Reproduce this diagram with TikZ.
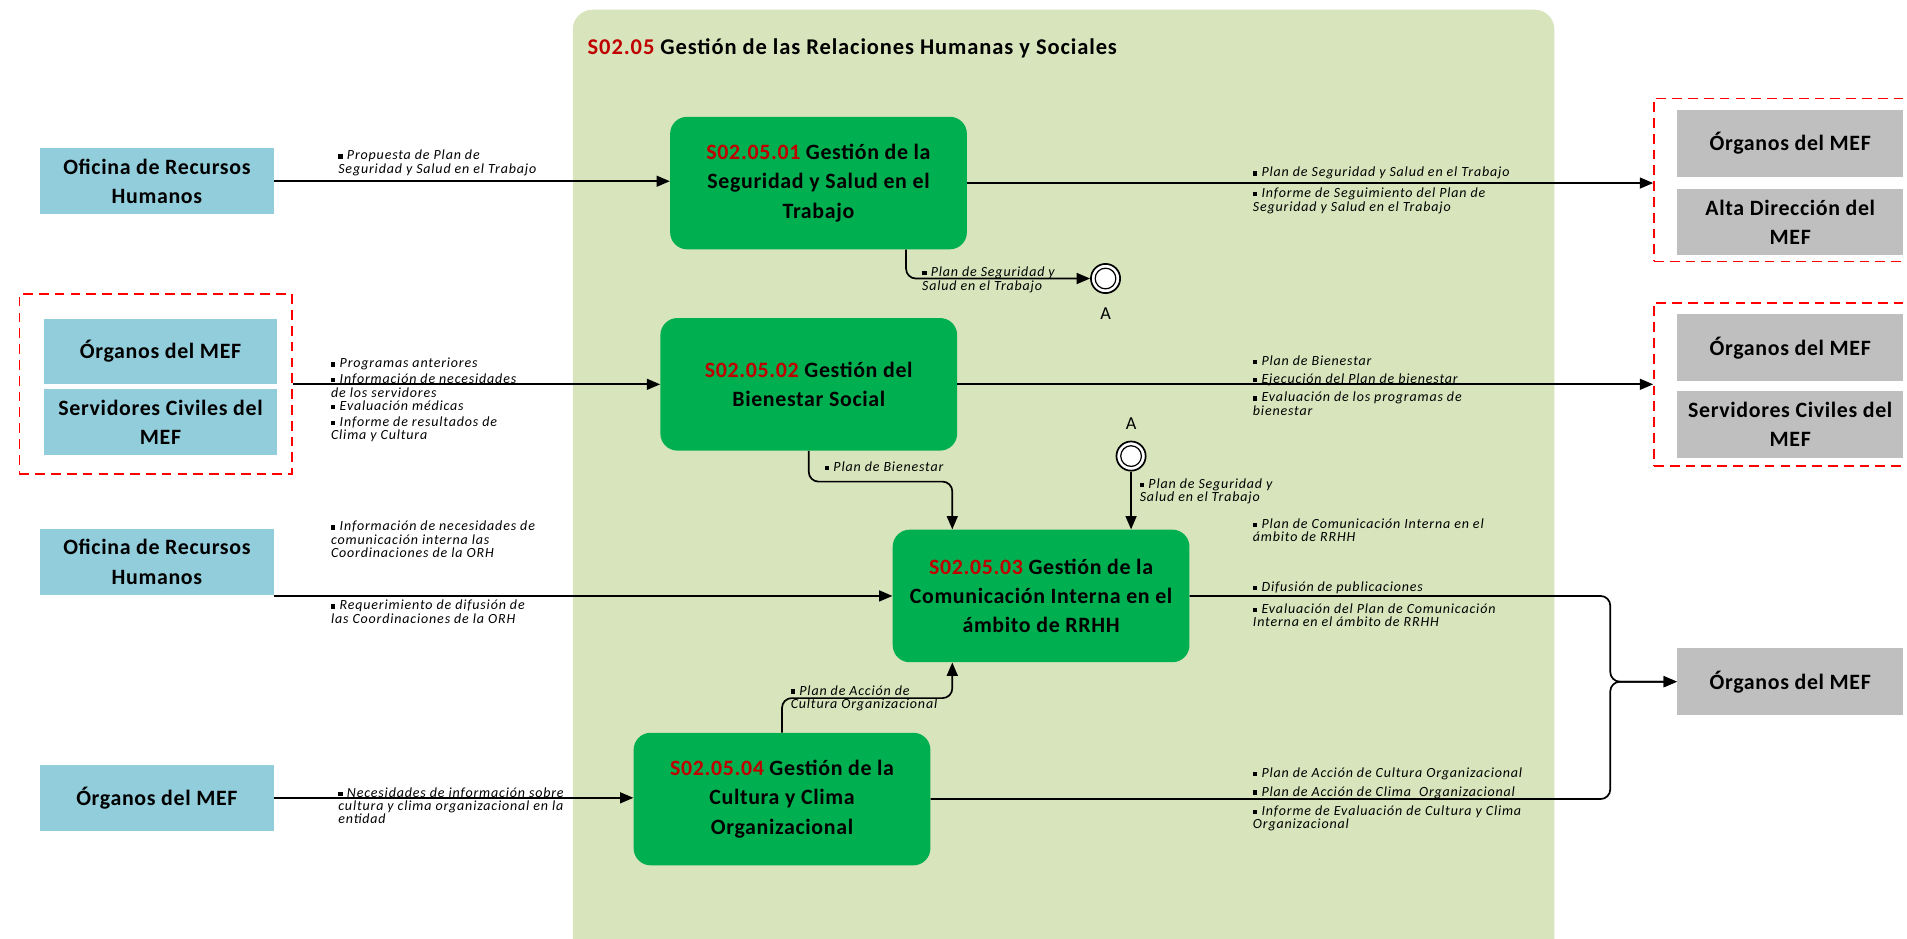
\documentclass[tikz,border=0pt]{standalone}
\usepackage{fontspec}
\setmainfont{Carlito}
\usetikzlibrary{arrows.meta}
\definecolor{panel}{HTML}{D8E4BC}
\definecolor{procgreen}{HTML}{00B050}
\definecolor{extblue}{HTML}{92CDDC}
\definecolor{extgray}{HTML}{BFBFBF}
\definecolor{codered}{HTML}{C00000}
\definecolor{dashred}{HTML}{FF0000}
\newcommand\bl{\rule[1.1pt]{3.6pt}{3.6pt}\hspace{3.5pt}}
\newcommand\cd[1]{\textcolor{codered}{#1}}
\begin{document}
\begin{tikzpicture}[x=1pt,y=-1pt,
  proc/.style={rectangle, rounded corners=14pt, fill=procgreen, minimum width=244pt, minimum height=109pt, align=center, font=\fontsize{18}{24}\selectfont\bfseries\addfontfeature{LetterSpace=3}, inner sep=0},
  ext/.style={rectangle, fill=extblue, minimum width=192pt, minimum height=54pt, align=center, font=\fontsize{18}{24}\selectfont\bfseries\addfontfeature{LetterSpace=3}, inner sep=0},
  extg/.style={ext, fill=extgray, minimum width=186pt, minimum height=55pt},
  grp/.style={rectangle, draw=dashred, dash pattern=on 8pt off 5pt, line width=1.4pt, inner sep=0, minimum width=224pt},
  lbl/.style={anchor=base west, inner sep=0, font=\fontsize{11.5}{11}\selectfont\itshape\addfontfeature{LetterSpace=6}, align=left},
  arr/.style={-{Triangle[length=11pt,width=9pt]}, line width=1.4pt},
  conn/.style={circle, draw=black, line width=1.4pt, fill=white, minimum size=24pt, inner sep=0},
  alab/.style={font=\fontsize{15}{15}\selectfont, inner sep=0}
]
\useasboundingbox (0,0) rectangle (1568,771.3);
% panel
\fill[panel, rounded corners=16pt] (471,8) rectangle (1278,800);
\node[anchor=west, inner sep=0, font=\fontsize{18.5}{20}\selectfont\bfseries\addfontfeature{LetterSpace=4}] (title) at (483,40) {\cd{S02.05} Gestión de las Relaciones Humanas y Sociales};

% process boxes
\node[proc] (b1) at (673,150.5) {\cd{S02.05.01} Gestión de la\\Seguridad y Salud en el\\Trabajo};
\node[proc] (b2) at (665,316) {\cd{S02.05.02} Gestión del\\Bienestar Social};
\node[proc] (b3) at (856,490) {\cd{S02.05.03} Gestión de la\\Comunicación Interna en el\\ámbito de RRHH};
\node[proc] (b4) at (643,657) {\cd{S02.05.04} Gestión de la\\Cultura y Clima\\Organizacional};

% left externals
\node[ext] (L1) at (129,149) {Oficina de Recursos\\Humanos};
\node[grp, minimum height=148pt] (G1) at (128,316) {};
\node[ext] (GA) at (132,289) {Órganos del MEF};
\node[ext] (GB) at (132,347) {Servidores Civiles del\\MEF};
\node[ext] (L3) at (129,462) {Oficina de Recursos\\Humanos};
\node[ext] (L4) at (129,656) {Órganos del MEF};

% right externals
\node[grp, minimum height=134pt] (RG1) at (1472,148) {};
\node[extg] (R1a) at (1472,118) {Órganos del MEF};
\node[extg] (R1b) at (1472,182.5) {Alta Dirección del\\MEF};
\node[grp, minimum height=134pt] (RG2) at (1472,316) {};
\node[extg] (R2a) at (1472,286) {Órganos del MEF};
\node[extg] (R2b) at (1472,349) {Servidores Civiles del\\MEF};
\node[extg] (R3) at (1472,560.5) {Órganos del MEF};

% connectors A
\node[conn] (A1) at (909,229) {};
\draw[line width=1pt] (A1.center) circle (8.5pt);
\node[alab] (A1t) at (909,258) {A};
\node[conn] (A2) at (930,375) {};
\draw[line width=1pt] (A2.center) circle (8.5pt);
\node[alab] (A2t) at (930,348) {A};

% flows
\draw[arr] (L1.east) -- (L1.east -| b1.west);
\draw[arr] (b1.east) -- (b1.east -| RG1.west);
\draw[arr, rounded corners=8pt] ([xshift=72pt]b1.south) |- (A1.west);
\draw[arr] (G1.east) -- (G1.east -| b2.west);
\draw[arr] (b2.east) -- (b2.east -| RG2.west);
\draw[arr, rounded corners=8pt] (b2.south) -- (b2.south |- 0,396) -| ([xshift=-73pt]b3.north);
\draw[arr] (A2.south) -- (A2.south |- b3.north);
\draw[arr] (b3.west -| L3.east) -- (b3.west);
\draw[arr, rounded corners=8pt] (b4.north) -- (b4.north |- 0,574) -| ([xshift=-73pt]b3.south);
\draw[arr] (L4.east) -- (L4.east -| b4.west);
\coordinate (m) at (1324,560.5);
\draw[arr, rounded corners=8pt] (b3.east) -| (m) -- (R3.west);
\draw[arr, rounded corners=8pt] (b4.east) -| (m) -- (R3.west);

% labels (anchor = baseline of last line)
\node[lbl] (t1) at (278,142.5) {\bl Propuesta de Plan de\\Seguridad y Salud en el Trabajo};
\node[lbl] (t2) at (1030,145.5) {\bl Plan de Seguridad y Salud en el Trabajo};
\node[lbl] (t3) at (1030,173.5) {\bl Informe de Seguimiento del Plan de\\Seguridad y Salud en el Trabajo};
\node[lbl] (t4) at (758,238.5) {\bl Plan de Seguridad y\\Salud en el Trabajo};
\node[lbl] (t5) at (272,302.5) {\bl Programas anteriores};
\node[lbl] (t6) at (272,326.5) {\bl Información de necesidades\\de los servidores};
\node[lbl] (t7) at (272,337.5) {\bl Evaluación médicas};
\node[lbl] (t8) at (272,361.5) {\bl Informe de resultados de\\Clima y Cultura};
\node[lbl] (t9) at (1030,300.5) {\bl Plan de Bienestar};
\node[lbl] (t10) at (1030,315.5) {\bl Ejecución del Plan de bienestar};
\node[lbl] (t11) at (1030,341.5) {\bl Evaluación de los programas de\\bienestar};
\node[lbl] (t12) at (678,387.5) {\bl Plan de Bienestar};
\node[lbl] (t13) at (937,412.5) {\bl Plan de Seguridad y\\Salud en el Trabajo};
\node[lbl] (t14) at (272,458.5) {\bl Información de necesidades de\\comunicación interna las\\Coordinaciones de la ORH};
\node[lbl] (t15) at (272,512.5) {\bl Requerimiento de difusión de\\las Coordinaciones de la ORH};
\node[lbl] (t16) at (1030,445.5) {\bl Plan de Comunicación Interna en el\\ámbito de RRHH};
\node[lbl] (t17) at (1030,486.5) {\bl Difusión de publicaciones};
\node[lbl] (t18) at (1030,515.5) {\bl Evaluación del Plan de Comunicación\\Interna en el ámbito de RRHH};
\node[lbl] (t19) at (650,582.5) {\bl Plan de Acción de\\Cultura Organizacional};
\node[lbl] (t20) at (278,677.5) {\bl Necesidades de información sobre\\cultura y clima organizacional en la\\entidad};
\node[lbl] (t21) at (1030,639.5) {\bl Plan de Acción de Cultura Organizacional};
\node[lbl] (t22) at (1030,654.5) {\bl Plan de Acción de Clima\ \ Organizacional};
\node[lbl] (t23) at (1030,681.5) {\bl Informe de Evaluación de Cultura y Clima\\Organizacional};
\end{tikzpicture}
\end{document}
